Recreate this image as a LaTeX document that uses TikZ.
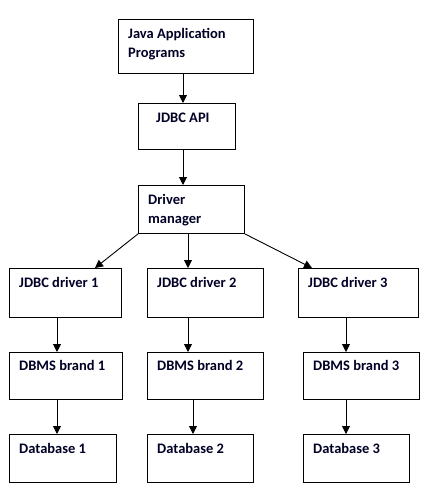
\documentclass[tikz,border=0pt]{standalone}
\usepackage{fontspec}
\setmainfont{Carlito}
\usetikzlibrary{arrows.meta}

\tikzset{
  box/.style={draw, line width=0.9pt, anchor=north west, inner sep=0pt},
  txt/.style={anchor=base west, inner sep=0pt, align=left, text=black!85!blue},
  arr/.style={line width=0.9pt, -{Triangle[length=8pt,width=8pt]}}
}

\begin{document}
\begin{tikzpicture}[x=1pt,y=-1pt,font=\fontsize{14.5}{19}\selectfont\bfseries]
\useasboundingbox (0,0) rectangle (428,501);
% top column
\node[box, minimum width=135pt, minimum height=54pt] (java) at (118,19) {};
\node[box, minimum width=97pt, minimum height=46pt] (api) at (138,103) {};
\node[box, minimum width=106pt, minimum height=48pt] (mgr) at (138,185) {};
\node[txt] at ([shift={(10,38)}]java.north west) {Java Application\\Programs};
\node[txt] at ([shift={(18,19)}]api.north west) {JDBC API};
\node[txt] at ([shift={(10,38)}]mgr.north west) {Driver\\manager};
\draw[arr] ([xshift=65]java.south west) -- ([xshift=65]java.south west |- api.north);
\draw[arr] ([xshift=45]api.south west) -- ([xshift=45]api.south west |- mgr.north);
% three branches
\foreach \i/\x/\w in {1/9/112, 2/147/116, 3/298/120}{
  \node[box, minimum width=\w pt, minimum height=49pt] (drv\i) at (\x,268) {};
  \node[txt] at ([shift={(10,19)}]drv\i.north west) {JDBC driver \i};
}
\foreach \i/\x/\w in {1/9/113, 2/147/116, 3/303/116}{
  \node[box, minimum width=\w pt, minimum height=47pt] (dbms\i) at (\x,352) {};
  \node[txt] at ([shift={(10,18)}]dbms\i.north west) {DBMS brand \i};
}
\foreach \i/\x/\w in {1/9/107, 2/147/106, 3/303/106}{
  \node[box, minimum width=\w pt, minimum height=48pt] (db\i) at (\x,434) {};
  \node[txt] at ([shift={(10,19)}]db\i.north west) {Database \i};
}
\draw[arr] (mgr.south west) -- ([xshift=86]drv1.north west);
\draw[arr] ([xshift=50]mgr.south west) -- ([xshift=50]mgr.south west |- drv2.north);
\draw[arr] (mgr.south east) -- ([xshift=14]drv3.north west);
\foreach \i/\p/\q in {1/48/48, 2/41/46, 3/48/43}{
  \draw[arr] ([xshift=\p]drv\i.south west) -- ([xshift=\p]drv\i.south west |- dbms\i.north);
  \draw[arr] ([xshift=\q]dbms\i.south west) -- ([xshift=\q]dbms\i.south west |- db\i.north);
}
\end{tikzpicture}
\end{document}
